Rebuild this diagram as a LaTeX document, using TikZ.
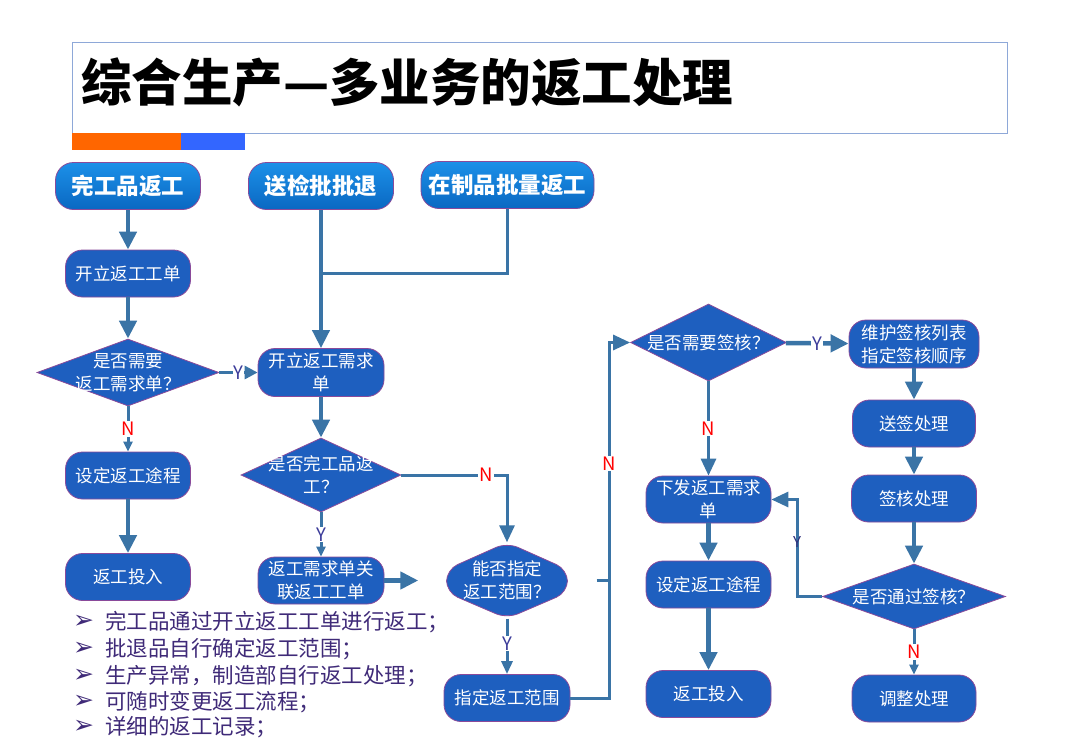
\documentclass[tikz,border=0pt]{standalone}
\usepackage{fontspec}
\setmainfont{Noto Sans CJK SC}
\newfontfamily\sym{DejaVu Sans}
\usetikzlibrary{arrows.meta,shapes.geometric,calc}
\definecolor{nodeblue}{HTML}{1E5FBF}
\definecolor{edgec}{HTML}{3A74A6}
\definecolor{bordc}{HTML}{8A4A9A}
\definecolor{toptop}{HTML}{1C90E8}
\definecolor{topbot}{HTML}{0A68C2}
\definecolor{titleb}{HTML}{8EA8D8}
\definecolor{orangebar}{HTML}{FF6600}
\definecolor{bluebar}{HTML}{3366FF}
\definecolor{notec}{HTML}{3F2A78}
\definecolor{ycol}{HTML}{3C3C9A}
\tikzset{
 procbox/.style={draw=bordc, line width=0.8pt, fill=nodeblue, text=white, rounded corners=17pt, inner sep=0pt, align=center, minimum width=125pt, minimum height=47pt, font=\fontsize{17.5}{23}\selectfont},
 topbox/.style={draw=bordc, line width=0.8pt, top color=toptop, bottom color=topbot, text=white, rounded corners=18pt, inner sep=0pt, minimum height=47pt, font=\bfseries\fontsize{22.5}{26}\selectfont},
 decbox/.style={diamond, draw=bordc, line width=0.8pt, fill=nodeblue, inner sep=0pt},
 dtxt/.style={text=white, align=center, font=\fontsize{17.5}{23}\selectfont, inner sep=0pt},
 conn/.style={draw=edgec, line width=4.5pt, -{Triangle[length=18pt,width=17pt]}},
 connmid/.style={draw=edgec, line width=3pt, -{Triangle[length=17pt,width=15pt]}},
 connthin/.style={draw=edgec, line width=3pt, -{Triangle[length=10pt,width=9pt]}},
 plainline/.style={draw=edgec, line width=3pt},
 ylab/.style={fill=white, text=ycol, inner sep=1pt, font=\fontsize{18.5}{18.5}\selectfont},
 nlab/.style={fill=white, text=red, inner sep=1pt, font=\fontsize{18.5}{18.5}\selectfont},
 note/.style={anchor=west, text=notec, inner sep=0pt, font=\fontsize{21.5}{26}\selectfont},
 bul/.style={anchor=west, text=notec, inner sep=0pt, font=\sym\fontsize{25}{25}\selectfont},
}
\begin{document}
\begin{tikzpicture}[x=1pt,y=-1pt]
\fill[white] (0,0) rectangle (1080,747);
\useasboundingbox (0,0) rectangle (1080,747);

% title
\node[draw=titleb, line width=1pt, minimum width=935pt, minimum height=91pt, anchor=north west, inner sep=0pt] (titlebox) at (72,42) {};
\node[anchor=west, inner sep=0pt, font=\bfseries\fontsize{50.5}{52}\selectfont] (title) at (81,82) {综合生产—多业务的返工处理};
\fill[orangebar] (72,133) rectangle (181,150);
\fill[bluebar] (181,133) rectangle (245,150);

% top boxes
\node[topbox, minimum width=145pt] (top1) at (128,186) {完工品返工};
\node[topbox, minimum width=145pt] (top2) at (321,186) {送检批批退};
\node[topbox, minimum width=173pt] (top3) at (507.5,185) {在制品批量返工};

% left column
\node[procbox] (p1) at (128,273.5) {开立返工工单};
\node[decbox, minimum width=182pt, minimum height=67pt, label={[dtxt]center:{是否需要\\返工需求单？}}] (d1) at (128,372.5) {};
\node[procbox] (p2) at (128,475.5) {设定返工途程};
\node[procbox] (p3) at (128,577) {返工投入};

% second column
\node[procbox, minimum width=126pt, minimum height=48pt] (q1) at (321,372.5) {开立返工需求\\单};
\node[decbox, minimum width=160pt, minimum height=74pt, label={[dtxt]center:{是否完工品返\\工？}}] (d2) at (321,475) {};
\node[procbox, minimum width=126pt] (q2) at (321,580.5) {返工需求单关\\联返工工单};

% third column
\node[minimum width=121pt, minimum height=76pt, inner sep=0pt] (d3) at (507,580.5) {};
\filldraw[fill=nodeblue, draw=bordc, line width=0.8pt, rounded corners=12pt]
  ($(d3.center)+(0,-38)$) -- ($(d3.center)+(60.5,-11)$) -- ($(d3.center)+(60.5,12)$) --
  ($(d3.center)+(0,38)$) -- ($(d3.center)+(-60.5,12)$) -- ($(d3.center)+(-60.5,-11)$) -- cycle;
\node[dtxt] (d3t) at (d3.center) {能否指定\\返工范围？};
\node[procbox, minimum width=126pt] (zd) at (507,698) {指定返工范围};

% fourth column
\node[decbox, minimum width=156pt, minimum height=77pt, label={[dtxt]center:{是否需要签核？}}] (d4) at (708.5,342.5) {};
\node[procbox] (xf) at (708.5,499.5) {下发返工需求\\单};
\node[procbox] (xs) at (708.5,584.5) {设定返工途程};
\node[procbox] (xt) at (708.5,694) {返工投入};

% fifth column
\node[procbox, minimum width=130pt, minimum height=48pt] (r1) at (914,344) {维护签核列表\\指定签核顺序};
\node[procbox, minimum width=123pt] (r2) at (914,423.5) {送签处理};
\node[procbox] (r3) at (914,498.5) {签核处理};
\node[decbox, minimum width=183pt, minimum height=65pt, label={[dtxt]center:{是否通过签核？}}] (d5) at (914,596.5) {};
\node[procbox, minimum width=124pt] (r4) at (914,698.5) {调整处理};

% coordinates
\coordinate (j1) at (321,273);
\coordinate (c1) at (609,342.5);
\coordinate (c2) at (797,499.5);

% connectors
\draw[conn] (top1) -- (p1);
\draw[conn] (p1) -- (d1);
\draw[connthin] (d1) -- node[nlab]{N} (p2);
\draw[conn] (p2) -- (p3);
\draw[connmid, -{Triangle[length=13pt,width=13pt]}] (d1) -- node[ylab]{Y} (q1);
\draw[plainline] (top3.south) |- (j1);
\draw[conn, line width=4pt] (top2) -- (q1);
\draw[conn] (q1) -- (d2);
\draw[connthin] (d2) -- node[ylab]{Y} (q2);
\draw[connmid] (d2.east) -| node[nlab, pos=0.4]{N} (d3.north);
\draw[conn, shorten >=28pt] (q2) -- (d3);
\draw[connthin, -{Triangle[length=13pt,width=11pt]}] (d3.south) -- node[ylab, pos=0.45]{Y} (zd);
\draw[plainline, shorten <=29pt] (d3.east) -- (d3.east -| c1);
\draw[connmid] (zd.east) -| node[nlab, pos=0.83]{N} (c1) -- (d4.west);
\draw[conn] (d4) -- node[ylab, fill=white]{Y} (r1);
\draw[connmid] (d4) -- node[nlab]{N} (xf);
\draw[conn] (xf) -- (xs);
\draw[conn] (xs) -- (xt);
\draw[conn] (r1) -- (r2);
\draw[conn] (r2) -- (r3);
\draw[conn] (r3) -- (d5);
\draw[connmid] (d5.west) -| node[ylab, fill=none, pos=0.78, text=ycol!80!black, font=\fontsize{15}{15}\selectfont]{Y} (c2) -- (xf.east);
\draw[connthin] (d5) -- node[nlab]{N} (r4);

% notes
\node[bul] (b1) at (73,622) {➢};
\node[bul] (b2) at (73,649) {➢};
\node[bul] (b3) at (73,676) {➢};
\node[bul] (b4) at (73,702) {➢};
\node[bul] (b5) at (73,727) {➢};
\node[note] (n1) at (105,622) {完工品通过开立返工工单进行返工；};
\node[note] (n2) at (105,649) {批退品自行确定返工范围；};
\node[note] (n3) at (105,676) {生产异常，制造部自行返工处理；};
\node[note] (n4) at (105,702) {可随时变更返工流程；};
\node[note] (n5) at (105,727) {详细的返工记录；};
\end{tikzpicture}
\end{document}
